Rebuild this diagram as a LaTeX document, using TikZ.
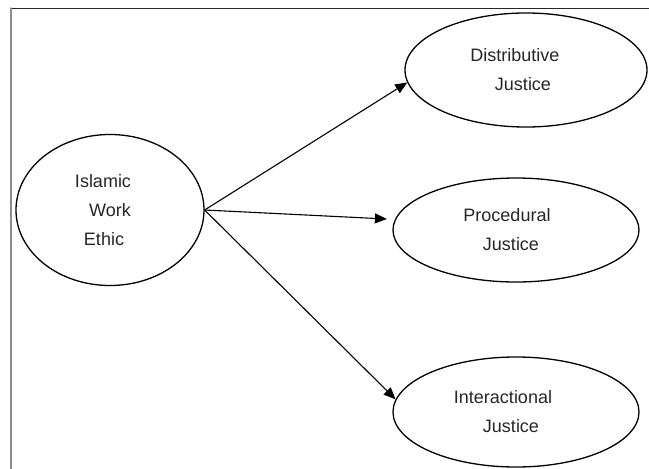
\documentclass[tikz,border=0pt]{standalone}
\usepackage{fontspec}
\setmainfont{Liberation Sans}
\usetikzlibrary{arrows.meta,shapes.geometric}

\begin{document}
\begin{tikzpicture}[x=1pt,y=-1pt,line cap=round,line join=round,
    >={Triangle[length=12pt,width=10pt]},
    oval/.style={draw,ellipse,line width=1.3pt,inner sep=0pt,align=center,
      text=black!85,font=\fontsize{18}{29}\selectfont}]
      \useasboundingbox (0,0) rectangle (649,469);

      % Add Frame
      \draw[black!85,line width=1pt] (11,8) -- (649,8);
      \draw[black!45,line width=1.5pt] (11,8) -- (11,469);

      % Add Nodes
      \node[oval,minimum width=188pt,minimum height=151pt] (iwe) at (110,210)
        {Islamic\hspace*{14pt}\\Work\hspace*{14pt}\\Ethic\hspace*{12pt}};
      \node[oval,minimum width=242pt,minimum height=114pt] (dist) at (526,70)
        {Distributive\hspace*{22pt}\\Justice\hspace*{6pt}};
      \node[oval,minimum width=246pt,minimum height=104pt] (proc) at (516,230)
        {Procedural\hspace*{18pt}\\Justice\hspace*{10pt}};
      \node[oval,minimum width=246pt,minimum height=110pt] (inter) at (516,412)
        {Interactional\hspace*{26pt}\\Justice\hspace*{10pt}};

      % Add Arrows
      \draw[->,line width=1.1pt] (iwe.east) -- (dist.186);
      \draw[->,line width=1.1pt,shorten >=8pt] (iwe.east) -- (proc.175);
      \draw[->,line width=1.1pt] (iwe.east) -- (inter.174);
\end{tikzpicture}
\end{document}
